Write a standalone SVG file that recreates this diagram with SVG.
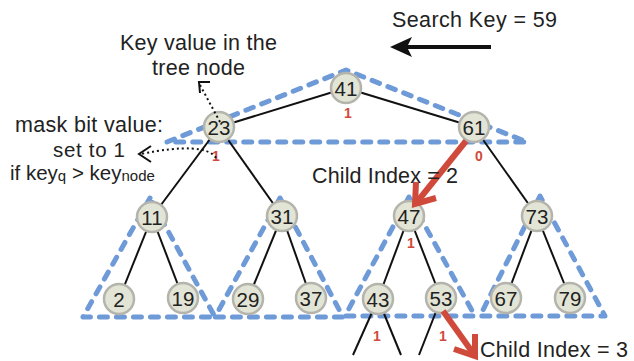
<svg xmlns="http://www.w3.org/2000/svg" width="634" height="361" viewBox="0 0 634 361">
<style>
.lbl{font-family:"Liberation Sans",Arial,Helvetica,sans-serif;font-size:21.5px;fill:#222}
.sm{font-size:20.5px}
.num{font-family:"Liberation Sans",Arial,Helvetica,sans-serif;font-size:20.5px;fill:#222;text-anchor:middle;dominant-baseline:central}
.bit{font-family:"Liberation Sans",Arial,Helvetica,sans-serif;font-size:14px;font-weight:bold;fill:#d04a3c;text-anchor:middle}
.blue{fill:none;stroke:#6f9ad8;stroke-width:5;stroke-dasharray:8 9;stroke-linecap:round;stroke-linejoin:round}
.edge{stroke:#111;stroke-width:2;fill:none}
.red{stroke:#d04a3c;stroke-width:6;fill:none;stroke-linejoin:miter}
.dot{stroke:#111;stroke-width:2;fill:none;stroke-dasharray:2 3}
.arm{stroke:#111;stroke-width:2;fill:none}
circle{fill:#e2e4d5;stroke:#b4b4ac;stroke-width:2.5}
</style>
<rect width="634" height="361" fill="#fff"/>
<g id="groups">
<polygon class="blue" points="167,142 346,70 527,142"/>
<polygon class="blue" points="150,198 83,317 215,317"/>
<polygon class="blue" points="280,198 215,317 343,317"/>
<polygon class="blue" points="409,197 345,316 475,316"/>
<polygon class="blue" points="540,196 480,316 605,316"/>
</g>
<g id="connectors">
<line class="edge" x1="346" y1="88" x2="219" y2="127"/>
<line class="edge" x1="346" y1="88" x2="474" y2="127"/>
<line class="edge" x1="219" y1="127" x2="152" y2="217"/>
<line class="edge" x1="219" y1="127" x2="282" y2="216"/>
<line class="edge" x1="474" y1="127" x2="537" y2="216"/>
<line class="edge" x1="152" y1="217" x2="119" y2="299"/>
<line class="edge" x1="152" y1="217" x2="183" y2="298"/>
<line class="edge" x1="282" y1="216" x2="248" y2="299"/>
<line class="edge" x1="282" y1="216" x2="311" y2="298"/>
<line class="edge" x1="409" y1="216" x2="378" y2="299"/>
<line class="edge" x1="409" y1="216" x2="441" y2="298"/>
<line class="edge" x1="537" y1="216" x2="506" y2="298"/>
<line class="edge" x1="537" y1="216" x2="570" y2="298"/>
<line class="edge" x1="378" y1="299" x2="353" y2="355"/>
<line class="edge" x1="378" y1="299" x2="401" y2="355"/>
<line class="edge" x1="441" y1="299" x2="419" y2="355"/>
</g>
<g id="n41"><circle cx="346" cy="88" r="15"/><text class="num" x="346" y="88">41</text></g>
<g id="n23"><circle cx="219" cy="127" r="15"/><text class="num" x="219" y="127">23</text></g>
<g id="n61"><circle cx="474" cy="127" r="15"/><text class="num" x="474" y="127">61</text></g>
<g id="n11"><circle cx="152" cy="217" r="15"/><text class="num" x="152" y="217">11</text></g>
<g id="n31"><circle cx="282" cy="216" r="15"/><text class="num" x="282" y="216">31</text></g>
<g id="n47"><circle cx="409" cy="216" r="15"/><text class="num" x="409" y="216">47</text></g>
<g id="n73"><circle cx="537" cy="216" r="15"/><text class="num" x="537" y="216">73</text></g>
<g id="n2"><circle cx="119" cy="299" r="15"/><text class="num" x="119" y="299">2</text></g>
<g id="n19"><circle cx="183" cy="298" r="15"/><text class="num" x="183" y="298">19</text></g>
<g id="n29"><circle cx="248" cy="299" r="15"/><text class="num" x="248" y="299">29</text></g>
<g id="n37"><circle cx="311" cy="298" r="15"/><text class="num" x="311" y="298">37</text></g>
<g id="n43"><circle cx="378" cy="299" r="15"/><text class="num" x="378" y="299">43</text></g>
<g id="n53"><circle cx="441" cy="298" r="15"/><text class="num" x="441" y="298">53</text></g>
<g id="n67"><circle cx="506" cy="298" r="15"/><text class="num" x="506" y="298">67</text></g>
<g id="n79"><circle cx="570" cy="298" r="15"/><text class="num" x="570" y="298">79</text></g>
<g id="bits">
<text class="bit" x="348" y="118">1</text>
<text class="bit" x="216" y="161">1</text>
<text class="bit" x="479" y="161">0</text>
<text class="bit" x="411" y="248">1</text>
<text class="bit" x="377" y="341">1</text>
<text class="bit" x="443" y="341">1</text>
</g>
<g id="red-arrows">
<path class="red" d="M466 141 L417 202"/>
<path class="red" d="M416 182 L415 204 L436 198"/>
<path class="red" d="M443 311 L473 353"/>
<path class="red" d="M475 334 L475 356 L454 349"/>
</g>
<g id="annotations">
<path class="dot" d="M220 122 L200 85"/>
<path class="arm" d="M210 82 L199 82 L200 93"/>
<path class="dot" d="M216 158 Q205 141 141 154"/>
<path class="arm" d="M151 146 L139 154 L151 162"/>
<line x1="491" y1="47" x2="405" y2="47" stroke="#111" stroke-width="4"/>
<path d="M390 47 L412 37 L407 47 L412 57 Z" fill="#111"/>
</g>
<g id="labels">
<text class="lbl" x="392" y="27" textLength="165">Search Key = 59</text>
<text class="lbl" x="120" y="50" textLength="157">Key value in the</text>
<text class="lbl" x="152" y="75" textLength="93">tree node</text>
<text class="lbl" x="15" y="132" textLength="148">mask bit value:</text>
<text class="lbl sm" x="53" y="157" textLength="72">set to 1</text>
<text class="lbl sm" x="10" y="180">if key<tspan font-size="15" dy="1">q</tspan><tspan dy="-1"> &gt; key</tspan><tspan font-size="15" dy="1">node</tspan></text>
<text class="lbl" x="312" y="183" textLength="146">Child Index = 2</text>
<text class="lbl" x="480" y="357" textLength="148">Child Index = 3</text>
</g>
</svg>
